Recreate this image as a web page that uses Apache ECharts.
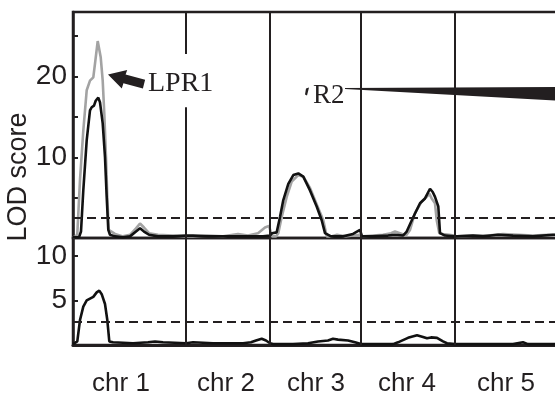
<!DOCTYPE html>
<html>
<head>
<meta charset="utf-8">
<script src="https://cdn.jsdelivr.net/npm/echarts@6/dist/echarts.min.js"></script>
<style>
  html, body { margin: 0; padding: 0; background: #fff; }
  #chart { width: 555px; height: 395px; }
</style>
</head>
<body>
<div id="chart"></div>
<script>
// map position (arbitrary units along the genome) and LOD score
const chromosomes = ["chr 1", "chr 2", "chr 3", "chr 4", "chr 5"];
const chrLabelPos = [48, 153, 243, 334, 433];
const chrBoundaries = [113, 197, 288, 382];
const topTicks = [5, 10, 15, 20, 25];
const topTickLabels = [10, 20];
const bottomTicks = [5, 10];
const bottomTickLabels = [5, 10];
const thresholdTop = 2.5;
const thresholdBottom = 2.6;

const lodGray = [
  [0, 0.1], [3, 0.2], [4.3, 0.5], [7, 7.2], [10.3, 13.3], [13.7, 18.3], [17, 19.5], [20.3, 19.9],
  [22, 21.6], [24.7, 24.4], [27.7, 22.4], [29.7, 19.5], [31.3, 15.4], [33, 10], [34.3, 5.1],
  [35.7, 1.0], [37, 0.8], [42, 0.5], [50, 0.2], [57, 0.4], [63, 1.2], [67, 1.8], [71, 1.3],
  [76, 0.6], [85, 0.4], [100, 0.3], [113, 0.2],
  [120, 0.2], [135, 0.3], [150, 0.2], [165, 0.5], [175, 0.3], [185, 0.6], [192, 1.3], [196, 1.5],
  [199, 0.2], [203, 0.2], [205.3, 0.6], [208.7, 2.6], [213.7, 5.1], [218.7, 7.0], [225.3, 7.8],
  [230.3, 7.6], [237, 6.2], [245.3, 3.7], [250.3, 2.2], [253.7, 0.2], [258, 0.2], [264, 0.4],
  [272, 0.2], [280, 0.3], [287, 0.4],
  [290, 0.2], [300, 0.3], [310, 0.4], [318, 0.6], [322, 0.8], [327, 0.6], [333, 0.3], [337, 1.0],
  [342, 3.1], [348.7, 4.5], [353.7, 5.1], [356.3, 5.5], [358.7, 4.9], [362, 4.3], [363.7, 2.2],
  [366.3, 0.6], [370, 0.5], [376, 0.4], [381, 0.3],
  [384, 0.2], [400, 0.3], [415, 0.3], [430, 0.5], [445, 0.4], [460, 0.3], [475, 0.4], [492, 0.3]
];

const lodBlack = [
  [0, 0.1], [6, 0.1], [8, 0.8], [9, 3.0], [10.3, 5.9], [13.7, 12.1], [17, 15.8], [18.7, 16.2],
  [21, 16.4], [22.7, 17.0], [25.3, 17.4], [27, 16.8], [29.7, 14.2], [32, 10], [33.7, 5.1],
  [35.3, 1.0], [37, 0.4], [42, 0.2], [50, 0.1], [57, 0.2], [63, 0.8], [67, 1.2], [71, 0.8],
  [76, 0.4], [85, 0.2], [100, 0.2], [113, 0.3],
  [120, 0.3], [135, 0.2], [150, 0.2], [165, 0.2], [180, 0.2], [190, 0.2], [197, 0.3],
  [199, 0.6], [203.7, 0.7], [207, 2.6], [210.3, 4.7], [215.3, 6.7], [220.3, 7.8], [225.3, 8.0],
  [230.3, 7.6], [237, 5.9], [243.7, 3.9], [248.7, 2.2], [252, 0.6], [258, 0.2], [270, 0.2],
  [280, 0.5], [287, 1.0],
  [289, 0.2], [300, 0.2], [315, 0.3], [322, 0.4], [330, 0.3], [333.7, 0.8], [340.3, 2.6],
  [347, 4.3], [352, 4.9], [357, 6.1], [359.7, 5.7], [362, 5.1], [365.3, 3.9], [367, 0.6],
  [372, 0.3], [381, 0.2],
  [384, 0.2], [400, 0.3], [410, 0.2], [425, 0.4], [440, 0.3], [460, 0.2], [480, 0.4], [492, 0.4]
];

const lodBottom = [
  [0, 0.1], [4.3, 0.4], [7, 2.8], [10.3, 4.3], [13.7, 5.0], [17, 5.2], [20.3, 5.4], [23.7, 5.9],
  [26.3, 6.1], [28.7, 5.7], [32, 4.6], [34.3, 2.8], [36.3, 0.4], [40, 0.3], [60, 0.2], [75, 0.3],
  [82, 0.4], [90, 0.3], [113, 0.2],
  [120, 0.3], [140, 0.2], [160, 0.2], [170, 0.2], [178, 0.3], [183, 0.5], [188.7, 0.7], [193, 0.5],
  [197, 0.2],
  [200, 0.1], [220, 0.1], [235, 0.2], [245, 0.4], [255, 0.5], [260, 0.7], [265, 0.6], [275, 0.5],
  [282, 0.3], [288, 0.1],
  [292, 0.1], [320, 0.1], [325, 0.3], [335, 0.8], [344, 1.1], [350, 0.9], [354, 0.75], [358, 0.85],
  [364, 0.8], [370, 0.4], [374, 0.2], [382, 0.1],
  [390, 0.1], [440, 0.1], [450, 0.3], [455, 0.1], [492, 0.1]
];

// annotations (data coordinates of the top panel)
const lpr1Arrow = [[35, 20.25], [54.2, 20.8], [52.6, 20.27], [72.1, 19.62], [69.9, 18.53], [50.4, 19.18], [48.8, 18.53]];
const r2Wedge = [[272, 18.58], [492, 18.7], [492, 16.96], [272, 18.46]];
const r2Tick = [[233, 18.52], [236, 18.64], [234, 17.65], [232, 17.78]];
const annotLabels = [["LPR1", 75, 19.14, 28], ["R2", 240, 17.65, 27]];
const lpr1Gap = [16.2, 22.8];

const ink = "#231f20";
const sans = "Liberation Sans, Arial, sans-serif";
const serif = "Liberation Serif, Times New Roman, serif";

const separatorsTop = chrBoundaries.flatMap((b, i) =>
  i === 0
    ? [[{ coord: [b, 0] }, { coord: [b, lpr1Gap[0]] }], [{ coord: [b, lpr1Gap[1]] }, { coord: [b, 28] }]]
    : [[{ coord: [b, 0] }, { coord: [b, 28] }]]
);
const separatorsBottom = chrBoundaries.map((b) => [{ coord: [b, 0] }, { coord: [b, 12] }]);

const chart = echarts.init(document.getElementById("chart"), null, { renderer: "canvas" });

const yAxisBase = {
  type: "value",
  min: 0,
  interval: 5,
  splitLine: { show: false },
  axisLine: { show: true, lineStyle: { color: ink, width: 2.5 } },
  axisLabel: { color: ink, fontSize: 28, fontFamily: sans, margin: 6 },
};

chart.setOption({
  animation: false,
  backgroundColor: "#fff",
  grid: [
    { left: 73, right: -10, top: 12, height: 226, show: true, borderColor: ink, borderWidth: 2.5, outerBoundsMode: "none" },
    { left: 73, right: -10, top: 238, height: 107, show: true, borderColor: ink, borderWidth: 2.5, outerBoundsMode: "none" },
  ],
  xAxis: [
    { gridIndex: 0, type: "value", min: 0, max: 492, show: false },
    {
      gridIndex: 1, type: "value", min: 0, max: 492,
      splitLine: { show: false },
      axisTick: { show: false },
      axisLine: { show: true, onZero: false, lineStyle: { color: ink, width: 3 } },
      axisLabel: {
        customValues: chrLabelPos,
        formatter: (v) => chromosomes[chrLabelPos.indexOf(v)] || "",
        color: ink, fontSize: 26, fontFamily: sans, margin: 26,
      },
    },
  ],
  yAxis: [
    Object.assign({}, yAxisBase, {
      gridIndex: 0, max: 28,
      axisTick: { show: true, inside: true, length: 5, customValues: topTicks, lineStyle: { color: ink, width: 2 } },
      axisLabel: Object.assign({}, yAxisBase.axisLabel, { customValues: topTickLabels }),
    }),
    Object.assign({}, yAxisBase, {
      gridIndex: 1, max: 12,
      axisTick: { show: true, inside: true, length: 5, customValues: bottomTicks, lineStyle: { color: ink, width: 2 } },
      axisLabel: Object.assign({}, yAxisBase.axisLabel, { customValues: bottomTickLabels }),
    }),
  ],
  graphic: [
    {
      type: "text", x: 19, y: 177, rotation: Math.PI / 2,
      style: { text: "LOD score", font: "27px " + sans, fill: ink, align: "center", verticalAlign: "middle" },
    },
  ],
  series: [
    {
      type: "line", xAxisIndex: 0, yAxisIndex: 0, data: lodGray,
      showSymbol: false, lineStyle: { color: "#a3a3a3", width: 2.6 }, z: 3,
    },
    {
      type: "line", xAxisIndex: 0, yAxisIndex: 0, data: lodBlack,
      showSymbol: false, lineStyle: { color: "#111", width: 2.6 }, z: 4,
      markLine: {
        silent: true, symbol: "none", label: { show: false },
        data: separatorsTop.map((seg) => seg.map((p) => Object.assign({}, p, { lineStyle: { color: ink, width: 2, type: "solid" } })))
          .concat([{ yAxis: thresholdTop, lineStyle: { color: ink, width: 2, type: [9, 5] } }]),
      },
    },
    {
      type: "line", xAxisIndex: 1, yAxisIndex: 1, data: lodBottom,
      showSymbol: false, lineStyle: { color: "#111", width: 2.6 }, z: 4,
      markLine: {
        silent: true, symbol: "none", label: { show: false },
        data: separatorsBottom.map((seg) => seg.map((p) => Object.assign({}, p, { lineStyle: { color: ink, width: 2, type: "solid" } })))
          .concat([{ yAxis: thresholdBottom, lineStyle: { color: ink, width: 2, type: [9, 5] } }]),
      },
    },
    {
      type: "custom", xAxisIndex: 0, yAxisIndex: 0, data: [[0, 0]], z: 6, silent: true,
      clip: false,
      renderItem: (params, api) => {
        const poly = (pts) => ({
          type: "polygon",
          shape: { points: pts.map((p) => api.coord(p)) },
          style: { fill: ink },
        });
        const texts = annotLabels.map(([t, x, y, size]) => {
          const c = api.coord([x, y]);
          return {
            type: "text", x: c[0], y: c[1],
            style: { text: t, font: size + "px " + serif, fill: ink, align: "left", verticalAlign: "middle" },
          };
        });
        return { type: "group", children: [poly(lpr1Arrow), poly(r2Wedge), poly(r2Tick)].concat(texts) };
      },
    },
  ],
});
</script>
</body>
</html>
